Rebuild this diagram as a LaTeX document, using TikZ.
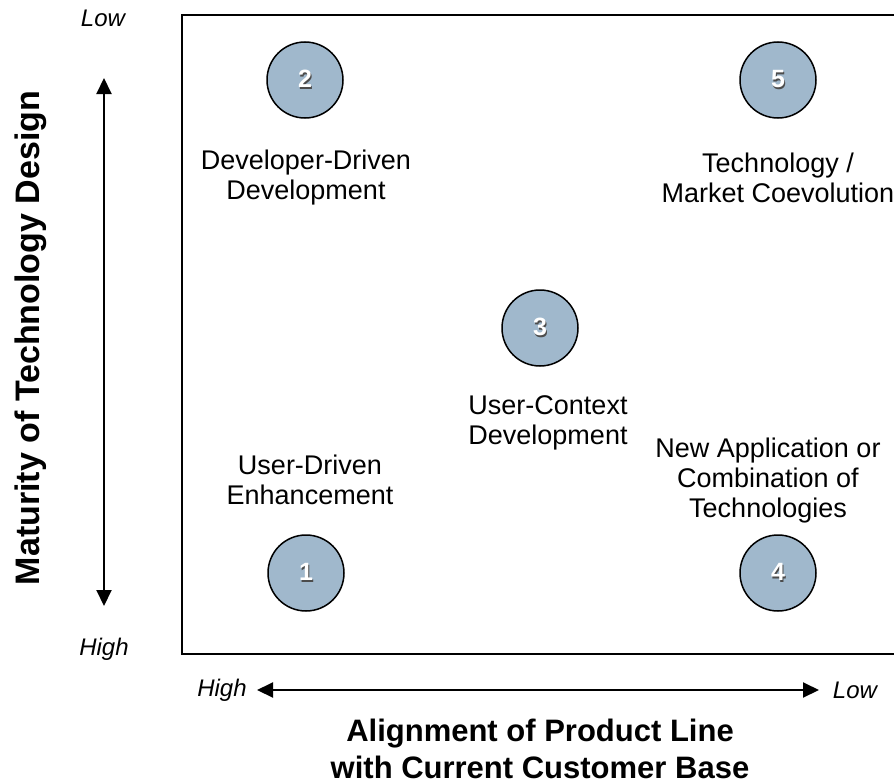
\documentclass[tikz,border=0pt]{standalone}
\usepackage{fontspec}
\setmainfont{Liberation Sans}
\usetikzlibrary{arrows.meta,positioning}
\definecolor{bubble}{RGB}{160,184,204}
\tikzstyle{stage} = [circle, draw=black, line width=1.5pt, fill=bubble, minimum size=76pt, inner sep=0pt, font=\fontsize{25}{28}\selectfont\bfseries]
\tikzstyle{lbl} = [align=center, font=\fontsize{27}{30}\selectfont]
\tikzstyle{ends} = [font=\fontsize{24}{27}\selectfont\itshape]
\tikzstyle{axis} = [line width=2pt, {Triangle[length=16pt,width=15pt]}-{Triangle[length=16pt,width=15pt]}]
\tikzstyle{title} = [align=center, font=\fontsize{31}{37}\selectfont\bfseries]
\newcommand{\stagenum}[1]{\makebox[0pt]{\hspace{2pt}\raisebox{-1.5pt}{\color{black!70}#1}}\makebox[0pt]{\color{white}#1}}

\begin{document}
\begin{tikzpicture}[x=1pt, y=-1pt]
\useasboundingbox (0,0) rectangle (894,784);
\clip (0,0) rectangle (894,784);
% frame of the grid
\draw[line width=2pt] (182,15) rectangle (920,654);

\node(S2)[stage] at (305,80) {\stagenum{2}};
\node(S5)[stage] at (778,80) {\stagenum{5}};
\node(S3)[stage] at (540,328) {\stagenum{3}};
\node(S1)[stage] at (306,573) {\stagenum{1}};
\node(S4)[stage] at (778,573) {\stagenum{4}};

\node(L2)[lbl] at (306,178) {Developer-Driven\\Development};
\node(L5)[lbl] at (778,178) {Technology /\\Market Coevolution};
\node(L3)[lbl] at (548,423) {User-Context\\Development};
\node(L1)[lbl] at (310,480) {User-Driven\\Enhancement};
\node(L4)[lbl] at (768,481) {New Application or\\Combination of\\Technologies};

% axes
\node(VLow)[ends] at (103,18) {Low};
\node(VHigh)[ends] at (104,649) {High};
\node(HHigh)[ends] at (222,690) {High};
\node(HLow)[ends] at (855,690) {Low};
\coordinate(VTop) at (104,78);
\coordinate(VBot) at (104,606);
\coordinate(HLeft) at (257,690);
\coordinate(HRight) at (819,690);
\draw[axis] (VTop) -- (VBot);
\draw[axis] (HLeft) -- (HRight);

\node(VTitle)[title, rotate=90, font=\fontsize{34}{37}\selectfont\bfseries] at (31,338) {Maturity of Technology Design};
\node(HTitle)[title] at (540,749) {Alignment of Product Line\\with Current Customer Base};
\end{tikzpicture}
\end{document}
